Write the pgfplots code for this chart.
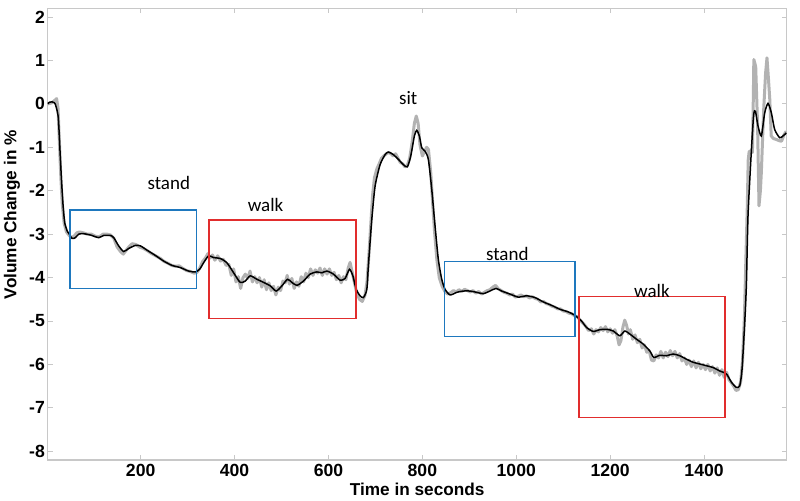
\documentclass[border=0pt]{standalone}
\usepackage{fontspec}
\setmainfont{Liberation Sans}
\newfontfamily\calfont{Carlito}
\usepackage{pgfplots}
\pgfplotsset{compat=1.18}
\definecolor{rawgrey}{RGB}{178,178,178}
\definecolor{boxblue}{RGB}{30,120,190}
\definecolor{boxred}{RGB}{225,45,45}
\definecolor{axgrey}{RGB}{200,200,200}
\begin{document}
\begin{tikzpicture}
\useasboundingbox (-23.85pt,-20.5pt) rectangle (376.15pt,230pt);
\begin{axis}[
  at={(0,0)}, anchor=south west,
  scale only axis, width=369.5pt, height=225.85pt,
  xmin=2, xmax=1576, ymin=-8.2, ymax=2.2,
  xtick={200,400,...,1400}, ytick={-8,-7,...,2},
  axis line style={axgrey, line width=0.6pt},
  tick style={axgrey, line width=0.4pt},
  major tick length=2.5pt,
  tick align=inside,
  /pgf/number format/assume math mode=true,
  /pgf/number format/set thousands separator={},
  ticklabel style={font=\fontsize{8.8}{10}\selectfont\bfseries, text=black},
  yticklabel style={inner xsep=1.2pt},
  xticklabel style={inner ysep=2pt},
  xlabel={Time in seconds},
  ylabel={Volume Change in \%},
  every axis x label/.style={at={(axis description cs:0.5,-0.0642)}, anchor=center, font=\fontsize{8.6}{10}\selectfont\bfseries},
  every axis y label/.style={at={(axis description cs:-0.0483,0.543)}, anchor=center, rotate=90, font=\fontsize{8.6}{10}\selectfont\bfseries},
]
% raw signal (grey)
\addplot[rawgrey, line width=1.5pt, line join=round] coordinates {
(2,0.0)(10,0.02)(17,0.08)(21,0.12)(24,-0.1)(27,-0.9)(30,-1.7)(33,-2.3)(37,-2.75)(42,-2.95)(47,-3.02)(52,-3.08)(58,-3.05)(64,-2.97)(70,-2.95)(78,-2.97)(86,-3.0)(95,-3.0)(104,-3.05)(112,-3.06)(120,-3.0)(128,-3.0)(136,-3.02)(143,-3.1)(150,-3.3)(157,-3.4)(163,-3.46)(170,-3.36)(176,-3.28)(182,-3.22)(190,-3.24)(198,-3.3)(206,-3.33)(214,-3.38)(222,-3.44)(232,-3.5)(242,-3.56)(250,-3.63)(258,-3.67)(266,-3.72)(274,-3.74)(282,-3.73)(290,-3.79)(298,-3.84)(306,-3.86)(314,-3.9)(320,-3.88)(326,-3.78)(332,-3.63)(338,-3.55)(343,-3.45)(348,-3.55)(353,-3.48)(358,-3.6)(364,-3.5)(370,-3.62)(376,-3.58)(382,-3.72)(388,-3.7)(393,-3.95)(398,-3.8)(403,-4.1)(408,-3.98)(413,-4.25)(418,-4.0)(423,-3.92)(428,-4.02)(433,-3.85)(438,-4.1)(443,-3.98)(448,-4.12)(453,-4.0)(458,-4.22)(463,-4.05)(468,-4.28)(473,-4.12)(478,-4.3)(483,-4.2)(488,-4.4)(493,-4.22)(498,-4.3)(503,-4.08)(508,-4.12)(512,-3.95)(517,-4.15)(522,-4.02)(527,-4.25)(532,-4.1)(537,-4.2)(542,-3.98)(547,-4.1)(552,-3.9)(557,-4.0)(562,-3.8)(567,-3.95)(572,-3.82)(577,-3.9)(582,-3.78)(587,-3.95)(592,-3.8)(597,-3.92)(602,-3.8)(607,-3.95)(612,-3.88)(617,-4.05)(622,-3.95)(627,-4.12)(632,-3.98)(637,-4.05)(642,-3.78)(646,-3.65)(650,-3.85)(655,-4.1)(660,-4.35)(666,-4.5)(672,-4.55)(678,-4.4)(682,-4.1)(686,-3.5)(690,-2.8)(694,-2.1)(698,-1.7)(703,-1.5)(708,-1.38)(713,-1.25)(718,-1.2)(723,-1.15)(728,-1.12)(733,-1.15)(738,-1.2)(743,-1.15)(748,-1.25)(753,-1.35)(758,-1.38)(763,-1.45)(768,-1.42)(773,-1.25)(778,-0.9)(783,-0.45)(787,-0.28)(791,-0.45)(795,-0.95)(800,-1.2)(805,-1.1)(809,-1.0)(813,-1.05)(818,-1.6)(822,-2.3)(826,-2.95)(831,-3.6)(836,-4.0)(842,-4.2)(848,-4.32)(854,-4.38)(860,-4.35)(866,-4.3)(872,-4.33)(878,-4.28)(884,-4.32)(890,-4.27)(896,-4.3)(902,-4.33)(908,-4.3)(914,-4.36)(920,-4.32)(926,-4.38)(932,-4.34)(938,-4.3)(944,-4.28)(950,-4.22)(956,-4.18)(962,-4.26)(968,-4.3)(974,-4.34)(980,-4.36)(986,-4.4)(992,-4.38)(998,-4.45)(1004,-4.43)(1010,-4.4)(1016,-4.44)(1022,-4.42)(1028,-4.47)(1034,-4.44)(1040,-4.48)(1046,-4.5)(1052,-4.56)(1058,-4.55)(1064,-4.6)(1070,-4.62)(1076,-4.66)(1082,-4.68)(1088,-4.72)(1094,-4.72)(1100,-4.77)(1106,-4.78)(1112,-4.82)(1118,-4.83)(1124,-4.88)(1130,-4.9)(1136,-4.98)(1142,-5.05)(1148,-5.12)(1154,-5.22)(1160,-5.18)(1165,-5.3)(1170,-5.2)(1175,-5.25)(1180,-5.15)(1185,-5.22)(1190,-5.13)(1195,-5.25)(1200,-5.18)(1205,-5.28)(1210,-5.2)(1215,-5.35)(1219,-5.55)(1223,-5.45)(1227,-5.15)(1231,-4.98)(1235,-5.1)(1239,-5.3)(1243,-5.2)(1248,-5.42)(1253,-5.32)(1258,-5.5)(1263,-5.42)(1268,-5.62)(1273,-5.55)(1278,-5.72)(1283,-5.68)(1288,-5.9)(1293,-5.92)(1298,-5.78)(1303,-5.85)(1308,-5.7)(1313,-5.85)(1318,-5.72)(1323,-5.82)(1328,-5.68)(1333,-5.8)(1338,-5.7)(1343,-5.85)(1348,-5.75)(1353,-5.92)(1358,-5.85)(1363,-6.0)(1368,-5.9)(1373,-6.05)(1378,-5.92)(1383,-6.08)(1388,-5.95)(1393,-6.1)(1398,-6.0)(1403,-6.12)(1408,-6.0)(1413,-6.15)(1418,-6.05)(1423,-6.2)(1428,-6.08)(1433,-6.25)(1438,-6.12)(1443,-6.3)(1448,-6.18)(1453,-6.35)(1458,-6.42)(1463,-6.5)(1468,-6.6)(1473,-6.58)(1478,-6.4)(1482,-5.9)(1486,-4.9)(1489,-3.6)(1492,-2.4)(1494,-1.3)(1496,-1.1)(1500,-1.08)(1503,-1.12)(1505,0.2)(1506,1.02)(1510,0.86)(1514,-0.5)(1517,-2.35)(1520,-2.0)(1522,-1.58)(1527,-0.13)(1531,0.7)(1534,1.06)(1537,0.6)(1540,0.1)(1543,-0.74)(1548,-0.8)(1554,-0.82)(1560,-0.85)(1565,-0.86)(1570,-0.72)(1575,-0.63)
};
% smoothed signal (black)
\addplot[black, line width=0.75pt, smooth, tension=0.4] coordinates {
(2,0.0)(6.4,0.04)(17,0.02)(24.3,-0.29)(27.7,-0.97)(31.3,-1.74)(34.9,-2.36)(38.3,-2.74)(44,-2.94)(46.8,-2.98)(54,-3.10)(61,-3.08)(68,-3.00)(78.7,-2.99)(93,-3.02)(110.6,-3.08)(121.3,-3.03)(135.5,-3.03)(142.6,-3.08)(153.2,-3.27)(163.8,-3.40)(174.5,-3.33)(188.7,-3.26)(199.4,-3.27)(213.6,-3.37)(231.3,-3.49)(249,-3.62)(266.8,-3.72)(284.5,-3.77)(302,-3.85)(316.4,-3.87)(325.5,-3.81)(334,-3.66)(344.7,-3.50)(355.3,-3.54)(369.6,-3.56)(383.8,-3.66)(398,-3.89)(412,-4.11)(422.8,-4.08)(433.4,-3.96)(447.7,-4.04)(461.7,-4.11)(476,-4.19)(488.7,-4.31)(500.9,-4.19)(512.8,-4.04)(522,-4.11)(532.8,-4.18)(546.8,-4.08)(561,-3.92)(575.3,-3.87)(586,-3.89)(596.6,-3.85)(610.6,-3.92)(624.9,-4.06)(635.5,-4.02)(644.7,-3.81)(652,-3.96)(659,-4.27)(667.4,-4.42)(674.5,-4.46)(681.7,-4.27)(685,-3.73)(692.3,-2.66)(699.4,-1.89)(710,-1.40)(720.6,-1.17)(727.7,-1.11)(738.3,-1.17)(749,-1.28)(759.6,-1.40)(768,-1.45)(775.3,-1.20)(783,-0.74)(788,-0.61)(793.6,-0.74)(798.7,-1.01)(805.7,-1.09)(812.8,-1.28)(820,-1.97)(827,-2.81)(834,-3.58)(841.3,-4.04)(848.3,-4.27)(859,-4.40)(873.2,-4.34)(887.2,-4.31)(901.5,-4.31)(915.7,-4.34)(929.8,-4.37)(944,-4.31)(956.8,-4.25)(969,-4.31)(986.6,-4.38)(1004.3,-4.45)(1022,-4.42)(1039.8,-4.46)(1057.4,-4.56)(1075.3,-4.64)(1093,-4.73)(1110.6,-4.79)(1125,-4.87)(1139,-5.00)(1149.8,-5.15)(1163.8,-5.24)(1178,-5.20)(1192.3,-5.19)(1206.4,-5.23)(1220.6,-5.34)(1231.3,-5.23)(1241.9,-5.30)(1256.2,-5.42)(1270.2,-5.53)(1284.5,-5.69)(1293,-5.84)(1305.7,-5.79)(1320,-5.80)(1334,-5.76)(1348.3,-5.80)(1362.6,-5.88)(1376.6,-5.95)(1390.9,-5.99)(1405,-6.03)(1419,-6.07)(1433.4,-6.15)(1447.7,-6.22)(1458.3,-6.41)(1468.9,-6.53)(1476,-6.49)(1480.9,-6.11)(1486.6,-5.03)(1490.2,-4.15)(1493.6,-2.58)(1500.9,-1.05)(1505.7,-0.25)(1509.4,-0.17)(1514.9,-0.51)(1522,-0.74)(1529.1,-0.21)(1536.2,0.01)(1543.4,-0.21)(1550.4,-0.59)(1561,-0.78)(1568,-0.74)(1575.3,-0.67)
};
% activity boxes
\draw[boxblue, line width=0.8pt] (axis cs:50,-2.44) rectangle (axis cs:319,-4.25);
\draw[boxred, line width=0.8pt] (axis cs:345,-2.67) rectangle (axis cs:659,-4.94);
\draw[boxblue, line width=0.8pt] (axis cs:847,-3.63) rectangle (axis cs:1125.5,-5.36);
\draw[boxred, line width=0.8pt] (axis cs:1134,-4.44) rectangle (axis cs:1445,-7.22);
% labels
\node[font=\calfont\fontsize{9.5}{11}\selectfont] at (axis cs:260,-1.82) {stand};
\node[font=\calfont\fontsize{9.5}{11}\selectfont] at (axis cs:466,-2.32) {walk};
\node[font=\calfont\fontsize{9.5}{11}\selectfont] at (axis cs:770,0.14) {sit};
\node[font=\calfont\fontsize{9.5}{11}\selectfont] at (axis cs:981,-3.45) {stand};
\node[font=\calfont\fontsize{9.5}{11}\selectfont] at (axis cs:1289,-4.32) {walk};
\end{axis}
\end{tikzpicture}
\end{document}
